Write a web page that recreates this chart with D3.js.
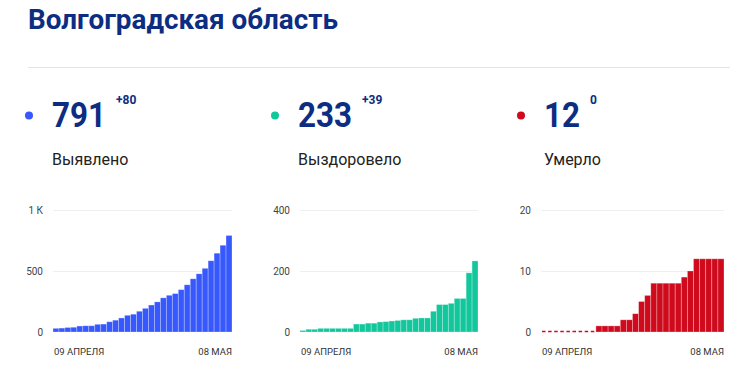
<!DOCTYPE html>
<html>
<head>
  <meta charset="utf-8">
  <title>Волгоградская область</title>
  <style>
    body { margin: 0; background: #fff; }
    svg { display: block; font-family: Roboto, "Noto Sans", sans-serif; }
  </style>
</head>
<body>
  <svg width="730" height="388"></svg>
  <script src="https://cdn.jsdelivr.net/npm/d3@7"></script>
  <script>
    // 09 April .. 08 May 2020
    var days = d3.timeDay.range(new Date(2020, 3, 9), new Date(2020, 4, 9));

    var confirmed = [30, 32, 37, 39, 49, 51, 51, 63, 65, 84, 97, 115, 137, 146, 170,
      194, 221, 247, 280, 301, 315, 347, 387, 436, 477, 522, 584, 646, 711, 791];
    var recovered = [5, 9, 9, 12, 12, 12, 12, 12, 12, 26, 26, 29, 29, 33, 34,
      36, 38, 40, 40, 45, 46, 46, 68, 90, 90, 94, 110, 110, 194, 233];
    var deaths = [0, 0, 0, 0, 0, 0, 0, 0, 0, 1, 1, 1, 1, 2, 2,
      3, 5, 6, 8, 8, 8, 8, 8, 9, 10, 12, 12, 12, 12, 12];

    var totals = ["791", "233", "12"];
    var deltas = ["+80", "+39", "0"];
    var names = ["Выявлено", "Выздоровело", "Умерло"];
    var colors = ["#3658fc", "#12c79c", "#cf0a1c"];
    var yTicks = [[0, 500, 1000], [0, 200, 400], [0, 10, 20]];
    var yTickLabels = [["0", "500", "1 К"], ["0", "200", "400"], ["0", "10", "20"]];
    var xLabels = ["09 АПРЕЛЯ", "08 МАЯ"];

    var series = [confirmed, recovered, deaths];
    var textX = [52, 298, 544];
    var plotX = [[53, 232], [300, 478], [541, 724]];
    var plotY = [332, 210];

    var navy = "#0c2d82";
    var svg = d3.select("svg");

    svg.append("text")
      .attr("x", 28).attr("y", 29)
      .attr("font-size", 27).attr("font-weight", 700)
      .attr("fill", navy)
      .attr("textLength", 310).attr("lengthAdjust", "spacingAndGlyphs")
      .text("Волгоградская область");

    svg.append("line")
      .attr("x1", 28).attr("x2", 730)
      .attr("y1", 67.5).attr("y2", 67.5)
      .attr("stroke", "#e4e4e4");

    series.forEach(function (values, k) {
      var g = svg.append("g");
      var tx = textX[k];

      // header
      g.append("circle")
        .attr("cx", tx - 23).attr("cy", 115.5).attr("r", 4)
        .attr("fill", colors[k]);

      var num = g.append("text")
        .attr("x", tx).attr("y", 127)
        .attr("font-size", 35).attr("font-weight", 700)
        .attr("fill", navy)
        .attr("textLength", totals[k].length * 18).attr("lengthAdjust", "spacingAndGlyphs")
        .text(totals[k]);

      g.append("text")
        .attr("x", tx + totals[k].length * 18 + 10).attr("y", 103.5)
        .attr("font-size", 12).attr("font-weight", 700)
        .attr("fill", navy)
        .text(deltas[k]);

      g.append("text")
        .attr("x", tx).attr("y", 164.5)
        .attr("font-size", 16)
        .attr("fill", "#222")
        .text(names[k]);

      // chart
      var x = d3.scaleBand()
        .domain(days)
        .range(plotX[k])
        .padding(0);

      var ticks = yTicks[k];
      var y = d3.scaleLinear()
        .domain([0, ticks[ticks.length - 1]])
        .range(plotY);

      g.append("g")
        .selectAll("line")
        .data(ticks.slice(1))
        .enter().append("line")
        .attr("x1", plotX[k][0]).attr("x2", plotX[k][1])
        .attr("y1", function (d) { return Math.round(y(d)) + 0.5; })
        .attr("y2", function (d) { return Math.round(y(d)) + 0.5; })
        .attr("stroke", "#efefef");

      g.append("g")
        .selectAll("text")
        .data(ticks)
        .enter().append("text")
        .attr("x", plotX[k][0] - 10)
        .attr("y", function (d) { return y(d); })
        .attr("dy", "0.35em")
        .attr("text-anchor", "end")
        .attr("font-size", 10)
        .attr("fill", "#444")
        .text(function (d, i) { return yTickLabels[k][i]; });

      var pts = values.map(function (v, i) { return { day: days[i], v: v }; });

      g.append("g")
        .selectAll("rect")
        .data(pts.filter(function (d) { return d.v > 0; }))
        .enter().append("rect")
        .attr("x", function (d) { return x(d.day); })
        .attr("width", x.bandwidth())
        .attr("y", function (d) { return y(d.v); })
        .attr("height", function (d) { return y(0) - y(d.v); })
        .attr("fill", colors[k])
        .attr("stroke", "rgba(255,255,255,0.35)")
        .attr("stroke-width", 0.8);

      // zero days shown as short dashes on the baseline
      g.append("g")
        .selectAll("line")
        .data(pts.filter(function (d) { return d.v === 0; }))
        .enter().append("line")
        .attr("x1", function (d) { return x(d.day) + 1; })
        .attr("x2", function (d) { return x(d.day) + 4.5; })
        .attr("y1", y(0) - 0.5).attr("y2", y(0) - 0.5)
        .attr("stroke", colors[k])
        .attr("stroke-width", 1.5);

      g.append("text")
        .attr("x", plotX[k][0] + 1).attr("y", 354.5)
        .attr("font-size", 9.5).attr("fill", "#333")
        .text(xLabels[0]);

      g.append("text")
        .attr("x", plotX[k][1]).attr("y", 354.5)
        .attr("text-anchor", "end")
        .attr("font-size", 9.5).attr("fill", "#333")
        .text(xLabels[1]);
    });
  </script>
</body>
</html>
